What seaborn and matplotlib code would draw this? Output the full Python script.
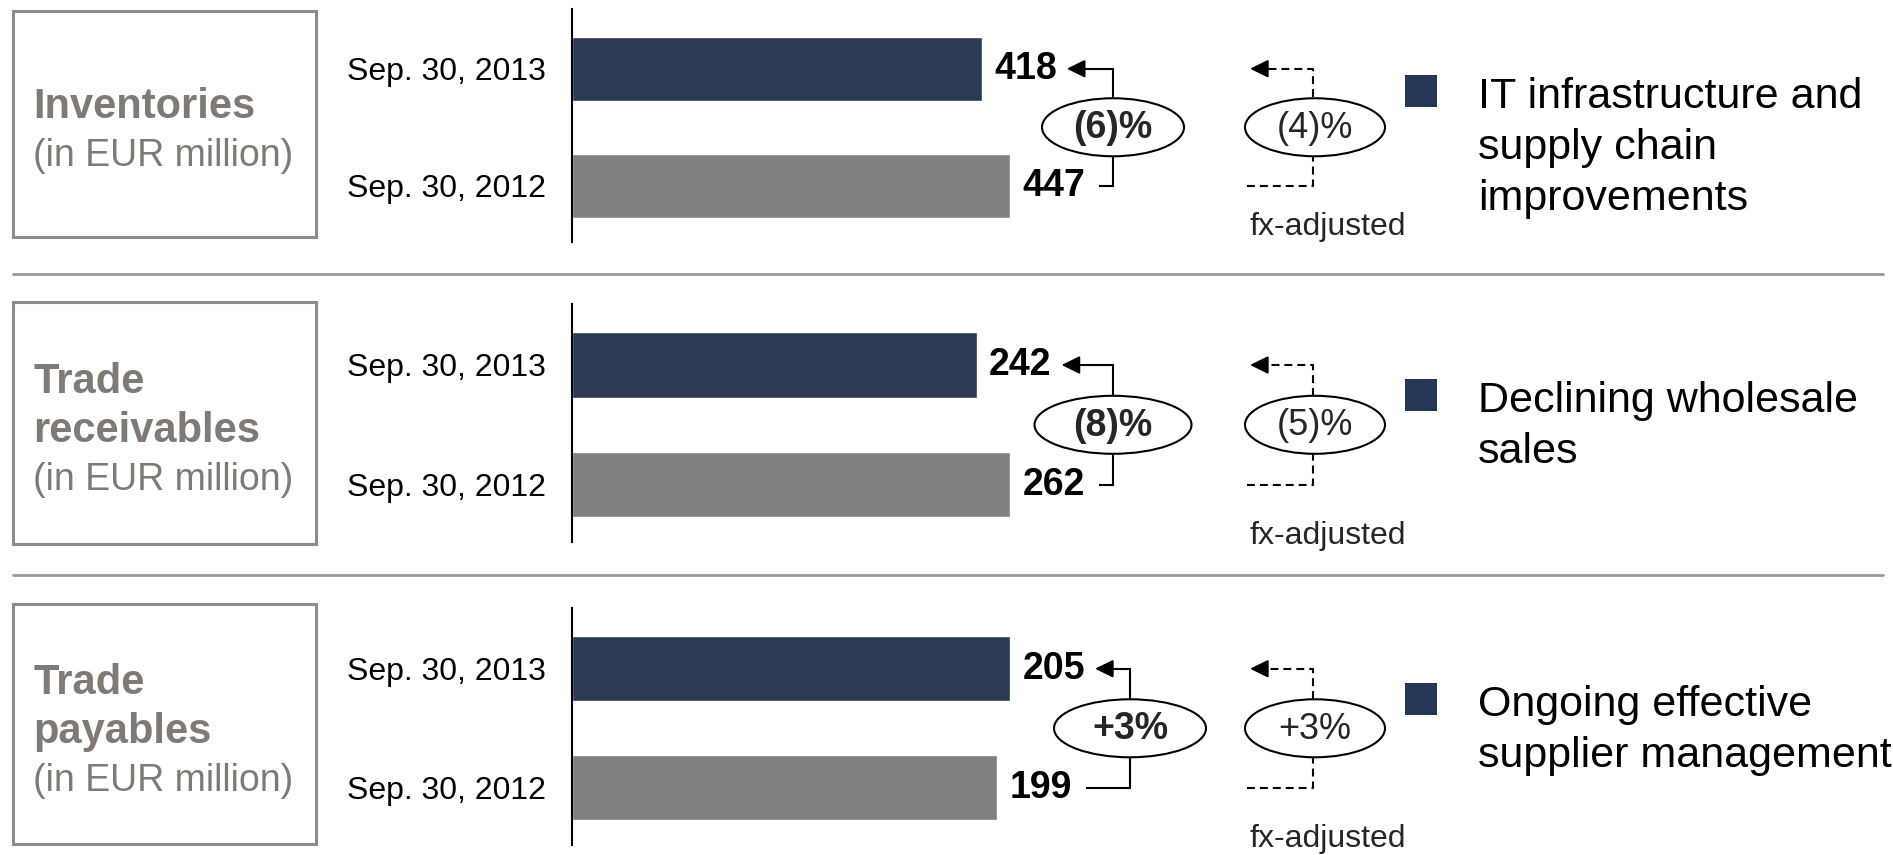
import matplotlib
matplotlib.use("Agg")
import matplotlib.pyplot as plt
import seaborn as sns
from matplotlib.patches import Ellipse, Rectangle, FancyArrowPatch

# ---- data -------------------------------------------------------------
dates = ["Sep. 30, 2013", "Sep. 30, 2012"]
inventories = [418, 447]
receivables = [242, 262]
payables = [205, 199]
change_reported = ["(6)%", "(8)%", "+3%"]
change_fx = ["(4)%", "(5)%", "+3%"]
titles = [["Inventories"], ["Trade", "receivables"], ["Trade", "payables"]]
unit_label = "(in EUR million)"
comments = [
    ["IT infrastructure and", "supply chain", "improvements"],
    ["Declining wholesale", "sales"],
    ["Ongoing effective", "supplier management"],
]
fx_label = "fx-adjusted"
series = [inventories, receivables, payables]

# ---- style ------------------------------------------------------------
NAVY = "#2b3a55"
NAVY_KEY = "#263656"
GREY = "#808080"
TITLE_GREY = "#7f7a75"
FRAME_GREY = "#8c8c8c"
RULE_GREY = "#9a9a9a"
HEAD = "-|>,head_length=0.55,head_width=0.27"

sns.set_theme(style="white")
plt.rcParams["font.family"] = ["Liberation Sans", "DejaVu Sans"]

W, H = 1893, 855
fig = plt.figure(figsize=(W / 100, H / 100), dpi=100)

# overlay in pixel units for frames, brackets and commentary
over = fig.add_axes([0, 0, 1, 1], zorder=5)
over.set_xlim(0, W)
over.set_ylim(H, 0)
over.axis("off")
over.patch.set_alpha(0)

# panel geometry (pixels from top)
axis_left, axis_right = 572, 1010
panel_top = [9, 304, 608]
panel_h = [233, 238, 237]
box_top = [11, 302, 604]
box_h = [226, 242, 240]
rules_y = [274, 575]
bracket_x = [1113, 1113, 1130]
oval_w = [142, 157, 152]
fx_x = 1313
fx_label_gap = [41, 51, 51]
key_top = [75, 379, 683]

fig.canvas.draw()
renderer = fig.canvas.get_renderer()


def ypix(ax, v):
    return H - ax.transData.transform((0, v))[1]


def xpix_right(text):
    return text.get_window_extent(renderer).x1


for i, vals in enumerate(series):
    ax = fig.add_axes([
        axis_left / W,
        1 - (panel_top[i] + panel_h[i]) / H,
        (axis_right - axis_left) / W,
        panel_h[i] / H,
    ])
    sns.barplot(x=vals, y=dates, hue=dates, palette=[NAVY, GREY], orient="h",
                width=0.545, saturation=1, legend=False, ax=ax)
    ax.set_xlim(0, max(vals))
    ax.set_ylim(1.48, -0.51)
    ax.set_xticks([])
    ax.set_xlabel("")
    ax.set_ylabel("")
    for s in ["top", "right", "bottom"]:
        ax.spines[s].set_visible(False)
    ax.spines["left"].set_color("black")
    ax.spines["left"].set_linewidth(1.5)
    ax.tick_params(axis="y", length=0, pad=19, labelsize=23, labelcolor="black")
    ax.patch.set_alpha(0)

    labels = []
    for cont in ax.containers:
        labels += ax.bar_label(cont, fmt="%d", padding=9, fontsize=27,
                               fontweight="bold", color="black")
    fig.canvas.draw()
    labels.sort(key=lambda t: -t.get_window_extent(renderer).y0)
    top_lbl, bot_lbl = labels[0], labels[1]

    y0 = ypix(ax, 0)
    y1 = ypix(ax, 1)
    ym = (y0 + y1) / 2

    # frame with title
    over.add_patch(Rectangle((13, box_top[i]), 303, box_h[i], fill=False,
                             edgecolor=FRAME_GREY, linewidth=2.2))
    lines = titles[i] + [unit_label]
    centre = box_top[i] + box_h[i] / 2 + 8
    n = len(lines)
    for k, line in enumerate(lines):
        yy = centre + (k - (n - 1) / 2) * 49
        bold = k < n - 1
        over.text(33, yy, line, ha="left", va="center",
                  fontsize=30 if bold else 27,
                  fontweight="bold" if bold else "normal", color=TITLE_GREY)

    # reported change bracket
    bx = bracket_x[i]
    x_bot = xpix_right(bot_lbl) + 14
    tip = xpix_right(top_lbl) + 10
    over.plot([x_bot, bx, bx, tip + 8], [y1, y1, y0, y0], color="black",
              lw=1.5, solid_capstyle="butt", solid_joinstyle="miter", zorder=3)
    over.add_patch(FancyArrowPatch((tip + 16, y0), (tip, y0), arrowstyle=HEAD,
                                   mutation_scale=20, color="black", lw=1.5,
                                   shrinkA=0, shrinkB=0, zorder=3))
    over.add_patch(Ellipse((bx, ym), oval_w[i], 58, facecolor="white",
                           edgecolor="black", lw=1.5, zorder=4))
    over.text(bx, ym + 1, change_reported[i], ha="center", va="center",
              fontsize=27, fontweight="bold", zorder=5)

    # fx-adjusted change bracket
    over.plot([1247, fx_x, fx_x, 1264], [y1, y1, y0, y0], color="black",
              lw=1.5, dashes=(3.8, 2.4), zorder=3)
    over.add_patch(FancyArrowPatch((1266, y0), (1250, y0), arrowstyle=HEAD,
                                   mutation_scale=20, color="black", lw=1.5,
                                   shrinkA=0, shrinkB=0, zorder=3))
    over.add_patch(Ellipse((fx_x + 2, ym), 140, 58, facecolor="white",
                           edgecolor="black", lw=1.5, zorder=4))
    over.text(fx_x + 2, ym + 1, change_fx[i], ha="center", va="center",
              fontsize=26, zorder=5)
    over.text(1328, y1 + fx_label_gap[i], fx_label, ha="center", va="center",
              fontsize=23)

    # commentary with key square
    over.add_patch(Rectangle((1405, key_top[i]), 32, 32, facecolor=NAVY_KEY,
                             edgecolor="none"))
    for k, line in enumerate(comments[i]):
        over.text(1478, key_top[i] + 33 + k * 51, line, ha="left",
                  va="baseline", fontsize=31, color="black")

for ry in rules_y:
    over.plot([13, 1883], [ry, ry], color=RULE_GREY, lw=2)

fig.savefig("out.png", dpi=100)
